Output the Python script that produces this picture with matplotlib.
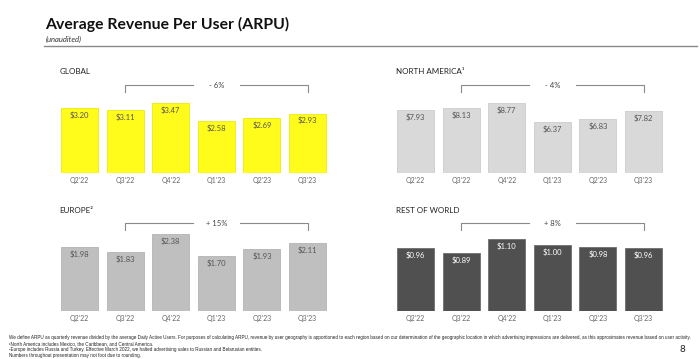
import numpy as np
import matplotlib
matplotlib.use("Agg")
import matplotlib.pyplot as plt

plt.rcParams['font.family'] = ['Lato', 'DejaVu Sans']

# data
quarters = ["Q2'22", "Q3'22", "Q4'22", "Q1'23", "Q2'23", "Q3'23"]
arpu_global = [3.20, 3.11, 3.47, 2.58, 2.69, 2.93]
arpu_na = [7.93, 8.13, 8.77, 6.37, 6.83, 7.82]
arpu_europe = [1.98, 1.83, 2.38, 1.70, 1.93, 2.11]
arpu_row = [0.96, 0.89, 1.10, 1.00, 0.98, 0.96]
changes = ["- 6%", "- 4%", "+ 15%", "+ 8%"]
panel_titles = ["GLOBAL", "NORTH AMERICA\u00b9", "EUROPE\u00b2", "REST OF WORLD"]

footnotes = [
    "We define ARPU as quarterly revenue divided by the average Daily Active Users. For purposes of calculating ARPU, "
    "revenue by user geography is apportioned to each region based on our determination of the geographic location in "
    "which advertising impressions are delivered, as this approximates revenue based on user activity.",
    "\u00b9North America includes Mexico, the Caribbean, and Central America.",
    "\u00b2Europe includes Russia and Turkey. Effective March 2022, we halted advertising sales to Russian and Belarusian entities.",
    "Numbers throughout presentation may not foot due to rounding.",
]

W, H = 700, 359
fig = plt.figure(figsize=(W / 100, H / 100), dpi=100)

# title block
fig.text(45 / W, 1 - 24 / H, "Average Revenue Per User (ARPU)", fontsize=11.3,
         fontweight='bold', color='#111111', va='center', ha='left')
fig.text(46 / W, 1 - 39 / H, "(unaudited)", fontsize=5.5, style='italic',
         color='#333333', va='center', ha='left')
fig.add_artist(plt.Line2D([44 / W, 0.995], [1 - 46 / H, 1 - 46 / H],
                          color='#8a8a8a', lw=1.0, transform=fig.transFigure))


def panel(left_px, base_px, scale, values, title, change, color, edge, txtcolor):
    # axes spans 6 bars, 45.6 px apart; top 95 px above baseline
    width_px = 6 * 45.6
    ax = fig.add_axes([left_px / W, (H - base_px) / H, width_px / W, 95 / H])
    x = np.arange(len(values))
    ax.bar(x, values, width=0.81, color=color, edgecolor=edge, linewidth=0.6)
    ax.set_xlim(-0.5, 5.5)
    ax.set_ylim(0, 95 / scale)
    for xi, v in zip(x, values):
        ax.annotate("$%.2f" % v, (xi, v), xytext=(0, -5.2), textcoords='offset points',
                    ha='center', va='center', fontsize=5.5, color=txtcolor)
    ax.set_xticks(x)
    ax.set_xticklabels(quarters, fontsize=5, color='#666666')
    ax.tick_params(axis='x', length=0, pad=2.6)
    ax.set_yticks([])
    for s in ax.spines.values():
        s.set_visible(False)
    # bracket comparing Q3'22 with Q3'23
    tr = ax.get_xaxis_transform()
    yb, yt = 81 / 95, 88 / 95
    kw = dict(color='#8a8a8a', lw=0.8, transform=tr, clip_on=False)
    ax.plot([1, 1, 2.48], [yb, yt, yt], **kw)
    ax.plot([3.52, 5, 5], [yt, yt, yb], **kw)
    ax.text(3, yt, change, transform=tr, ha='center', va='center', fontsize=5.5,
            color='#444444')
    # panel title
    fig.text((left_px + 3) / W, 1 - (base_px - 101) / H, title, fontsize=5.8,
             color='#222222', ha='left', va='center')
    return ax


panel(56.7, 173, 20.3, arpu_global, panel_titles[0], changes[0],
      '#FFFC1C', '#EDEA10', '#555555')
panel(392.7, 173, 7.94, arpu_na, panel_titles[1], changes[1],
      '#D9D9D9', '#CCCCCC', '#555555')
panel(56.7, 311, 32.3, arpu_europe, panel_titles[2], changes[2],
      '#BFBFBF', '#B3B3B3', '#555555')
panel(392.7, 311, 65.6, arpu_row, panel_titles[3], changes[3],
      '#505050', '#6E6E6E', '#FFFFFF')

# footnotes
for line, y in zip(footnotes, [338, 344, 349.5, 355]):
    fig.text(9 / W, 1 - y / H, line, fontsize=3.35, color='#222222',
             family=['Liberation Sans', 'DejaVu Sans'], ha='left', va='center')
fig.text(682 / W, 1 - 349 / H, "8", fontsize=7, color='#222222', ha='center', va='center')

fig.savefig("out.png", dpi=100, facecolor='white')
